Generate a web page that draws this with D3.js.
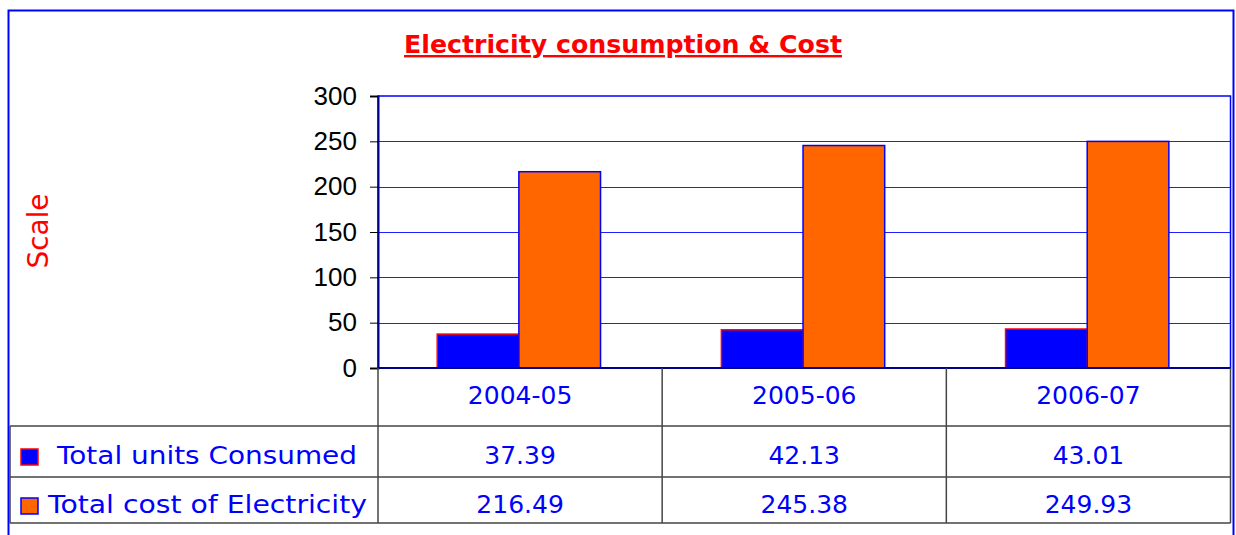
<!DOCTYPE html>
<html>
<head>
<meta charset="utf-8">
<script src="https://cdn.jsdelivr.net/npm/d3@7"></script>
<style>
  body { margin: 0; background: #fff; }
  svg { display: block; }
</style>
</head>
<body>
<div id="chart"></div>
<script>
// chart data
const categories = ["2004-05", "2005-06", "2006-07"];
const seriesNames = ["Total units Consumed", "Total cost of Electricity"];
const unitsConsumed = [37.39, 42.13, 43.01];
const costElectricity = [216.49, 245.38, 249.93];
const yTicks = [0, 50, 100, 150, 200, 250, 300];

const W = 1236, H = 535;
const plot = {l: 378, r: 1230.5, t: 96, b: 368};
const rowY = [368, 426, 477, 523];   // table row boundaries
const tableLeft = 10;

const seriesFill = ["#0000ff", "#ff6600"];
const seriesStroke = ["#ff0000", "#0000ff"];
const seriesValues = [unitsConsumed, costElectricity];

const textFont = "'DejaVu Sans', sans-serif";

const svg = d3.select("#chart").append("svg")
    .attr("width", W).attr("height", H);

// outer frame
svg.append("rect")
    .attr("x", 8.5).attr("y", 10.5)
    .attr("width", 1225).attr("height", 540)
    .attr("fill", "none").attr("stroke", "#0000ff").attr("stroke-width", 2);

// title
svg.append("text")
    .attr("x", 404).attr("y", 53)
    .attr("font-family", textFont)
    .attr("font-size", 24).attr("font-weight", "bold")
    .attr("fill", "#ff0000")
    .attr("text-decoration", "underline")
    .attr("textLength", 438)
    .attr("lengthAdjust", "spacingAndGlyphs")
    .text("Electricity consumption & Cost");

// y axis label
svg.append("text")
    .attr("transform", "translate(48,231) rotate(-90)")
    .attr("text-anchor", "middle")
    .attr("font-family", textFont)
    .attr("font-size", 28)
    .attr("fill", "#ff0000")
    .attr("textLength", 75)
    .attr("lengthAdjust", "spacingAndGlyphs")
    .text("Scale");

// scales
const x = d3.scaleBand().domain(categories).range([plot.l, plot.r]);
const xs = d3.scaleBand().domain([0, 1]).range([0, x.bandwidth()]).paddingOuter(0.74).align(0.49);
const y = d3.scaleLinear().domain([0, 300]).range([plot.b, plot.t]);

// gridlines
svg.append("g").selectAll("line").data(yTicks.filter(d => d > 0 && d < 300)).enter()
    .append("line")
    .attr("x1", plot.l).attr("x2", plot.r)
    .attr("y1", d => Math.round(y(d)) + 0.5).attr("y2", d => Math.round(y(d)) + 0.5)
    .attr("stroke", "#2020ff").attr("stroke-width", 1);

// plot area border
svg.append("rect")
    .attr("x", plot.l).attr("y", plot.t)
    .attr("width", plot.r - plot.l).attr("height", plot.b - plot.t)
    .attr("fill", "none").attr("stroke", "#0000ff").attr("stroke-width", 1.5);

// bars
categories.forEach((c, i) => {
    seriesValues.forEach((vals, s) => {
        svg.append("rect")
            .attr("x", x(c) + xs(s))
            .attr("y", y(vals[i]))
            .attr("width", xs.bandwidth())
            .attr("height", y(0) - y(vals[i]))
            .attr("fill", seriesFill[s])
            .attr("stroke", seriesStroke[s]).attr("stroke-width", 1.5);
    });
});

// y axis
const yAxis = svg.append("g")
    .attr("transform", `translate(${plot.l},0)`)
    .call(d3.axisLeft(y).tickValues(yTicks).tickSize(8).tickPadding(13));
yAxis.select(".domain").attr("stroke", "#00008b").attr("stroke-width", 2);
yAxis.selectAll(".tick line").attr("stroke", "#000");
yAxis.selectAll(".tick text")
    .attr("font-family", "'Liberation Sans', Arial, sans-serif")
    .attr("font-size", 26).attr("fill", "#000");

// x axis line
svg.append("line")
    .attr("x1", plot.l).attr("x2", plot.r)
    .attr("y1", plot.b).attr("y2", plot.b)
    .attr("stroke", "#00008b").attr("stroke-width", 2);

// data table grid
const grid = svg.append("g").attr("stroke", "#444").attr("stroke-width", 1.5);
[rowY[1], rowY[2], rowY[3]].forEach(yy => {
    grid.append("line").attr("x1", tableLeft).attr("x2", plot.r).attr("y1", yy).attr("y2", yy);
});
grid.append("line").attr("x1", tableLeft).attr("x2", tableLeft).attr("y1", rowY[1]).attr("y2", rowY[3]);
[plot.l, plot.l + x.bandwidth(), plot.l + 2 * x.bandwidth(), plot.r].forEach(xx => {
    grid.append("line").attr("x1", xx).attr("x2", xx).attr("y1", rowY[0]).attr("y2", rowY[3]);
});

// category header row
svg.append("g").selectAll("text").data(categories).enter()
    .append("text")
    .attr("x", d => x(d) + x.bandwidth() / 2)
    .attr("y", 404)
    .attr("text-anchor", "middle")
    .attr("font-family", textFont).attr("font-size", 25)
    .attr("fill", "#0000ff")
    .text(d => d);

// value rows
const rowBase = [464, 513];
seriesValues.forEach((vals, s) => {
    const cy = rowBase[s];
    svg.append("g").selectAll("text").data(vals).enter()
        .append("text")
        .attr("x", (d, i) => x(categories[i]) + x.bandwidth() / 2)
        .attr("y", cy)
        .attr("text-anchor", "middle")
        .attr("font-family", textFont).attr("font-size", 25)
        .attr("fill", "#0000ff")
        .text(d => d3.format(".2f")(d));

    // legend key
    svg.append("rect")
        .attr("x", 21).attr("y", cy - 15)
        .attr("width", 17).attr("height", 16)
        .attr("fill", seriesFill[s])
        .attr("stroke", seriesStroke[s]).attr("stroke-width", 1.5);

    svg.append("text")
        .attr("x", s === 0 ? 57 : 48).attr("y", cy)
        .attr("font-family", textFont).attr("font-size", 25)
        .attr("fill", "#0000ff")
        .attr("textLength", s === 0 ? 300 : 319)
        .attr("lengthAdjust", "spacingAndGlyphs")
        .text(seriesNames[s]);
});
</script>
</body>
</html>
